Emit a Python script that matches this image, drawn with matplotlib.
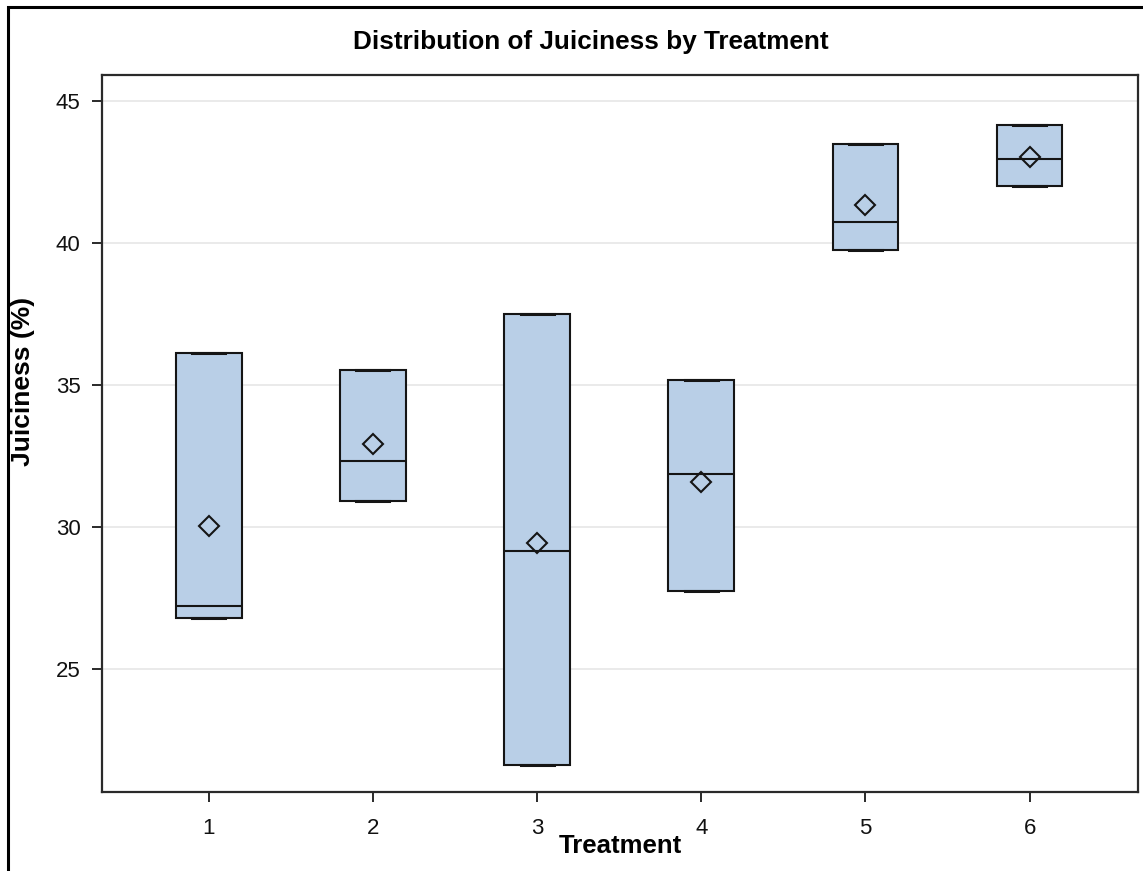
import matplotlib
matplotlib.use('Agg')
import numpy as np
import matplotlib.pyplot as plt
from matplotlib.patches import Rectangle

plt.rcParams['font.family'] = ['Liberation Sans', 'DejaVu Sans']

# juiciness (%) readings, three per treatment
treatments = [1, 2, 3, 4, 5, 6]
juice_t1 = [26.81, 27.21, 36.11]
juice_t2 = [30.92, 32.33, 35.51]
juice_t3 = [21.62, 29.14, 37.51]
juice_t4 = [27.73, 31.86, 35.18]
juice_t5 = [39.76, 40.74, 43.48]
juice_t6 = [42.00, 42.95, 44.15]
groups = [juice_t1, juice_t2, juice_t3, juice_t4, juice_t5, juice_t6]
y_ticks = [25, 30, 35, 40, 45]

BOX_FILL = '#b9cfe7'
EDGE = '#151515'


# box stats with SAS-style percentiles (definition 5)
def box_stats(values, label):
    v = np.sort(np.asarray(values, dtype=float))
    q1, med, q3 = np.percentile(v, [25, 50, 75], method='averaged_inverted_cdf')
    return dict(label=label, mean=v.mean(), med=med, q1=q1, q3=q3,
                whislo=v.min(), whishi=v.max(), fliers=[])


stats = [box_stats(g, str(t)) for g, t in zip(groups, treatments)]

fig = plt.figure(figsize=(11.43, 8.71), dpi=100)
ax = fig.add_axes([102 / 1143, 79 / 871, (1138 - 102) / 1143, (792 - 75) / 871])

ax.bxp(stats, positions=treatments, widths=0.4, capwidths=0.2,
       patch_artist=True, showmeans=True, manage_ticks=False,
       boxprops=dict(facecolor=BOX_FILL, edgecolor=EDGE, linewidth=1.5),
       medianprops=dict(color=EDGE, linewidth=1.5),
       whiskerprops=dict(color=EDGE, linewidth=1.5),
       capprops=dict(color=EDGE, linewidth=2.2),
       meanprops=dict(marker='D', markersize=10.5, markerfacecolor='none',
                      markeredgecolor=EDGE, markeredgewidth=1.5))

ax.set_xlim(0.35, 6.66)
ax.set_ylim(20.67, 45.91)
ax.set_xticks(treatments)
ax.set_xticklabels([str(t) for t in treatments])
ax.set_yticks(y_ticks)
ax.yaxis.grid(True, color='#e8e8e8', linewidth=1.3)
ax.set_axisbelow(True)

for s in ax.spines.values():
    s.set_color('#2a2a2a')
    s.set_linewidth(1.6)
ax.tick_params(axis='both', labelsize=16, length=7.5, width=1.4,
               color='#2a2a2a', labelcolor='#111111')
ax.tick_params(axis='x', pad=11)
ax.tick_params(axis='y', pad=8)

ax.set_xlabel('Treatment', fontsize=18.5, fontweight='bold')
ax.xaxis.set_label_coords(0.5, -0.059)
fig.text(23.5 / 1143, 1 - 381 / 871, 'Juiciness (%)', rotation=90,
         ha='center', va='center', fontsize=19, fontweight='bold')
fig.text(591 / 1143, 1 - 42 / 871, 'Distribution of Juiciness by Treatment',
         ha='center', va='center', fontsize=18.8, fontweight='bold')

# outer frame around the graph area
fig.add_artist(Rectangle((8 / 1143, -0.1), 1.2, 1.1 - 7 / 871, transform=fig.transFigure,
                         fill=False, edgecolor='black', linewidth=2.2))

fig.savefig('out.png', dpi=100)
